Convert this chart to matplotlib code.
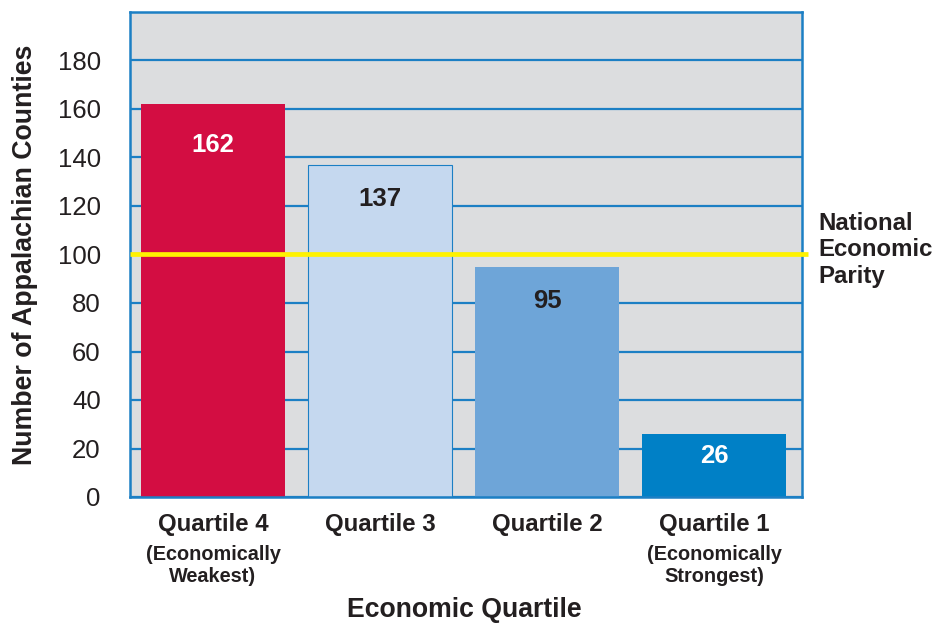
import matplotlib
matplotlib.use("Agg")
import matplotlib.pyplot as plt
from matplotlib.transforms import blended_transform_factory

plt.rcParams['font.family'] = ['Liberation Sans', 'DejaVu Sans']

categories = ["Quartile 4", "Quartile 3", "Quartile 2", "Quartile 1"]
subtitles = ["(Economically\nWeakest)", "", "", "(Economically\nStrongest)"]
counts = [162, 137, 95, 26]
parity_level = 100
y_ticks = [0, 20, 40, 60, 80, 100, 120, 140, 160, 180]

bar_colors = ["#D30D42", "#C5D8EF", "#6EA5D8", "#0080C6"]
value_colors = ["white", "#231F20", "#231F20", "white"]
value_drop = [41, 34, 34, 22]  # px below bar top
frame_blue = "#1C7FC4"
text_dark = "#231F20"

fig = plt.figure(figsize=(9.35, 6.24), dpi=100)
ax = fig.add_axes([130/935, 1 - 497/624, (802-130)/935, (497-12)/624])
ax.set_facecolor("#DCDDDF")
ax.set_xlim(-0.497, 3.527)
ax.set_ylim(0, 200)

ax.set_yticks(y_ticks)
ax.yaxis.grid(True, color=frame_blue, linewidth=1.6)
ax.set_axisbelow(True)
ax.tick_params(axis='y', length=0, pad=21, labelsize=18.5, labelcolor=text_dark)
ax.tick_params(axis='x', length=0, labelbottom=False)
for s in ax.spines.values():
    s.set_color(frame_blue)
    s.set_linewidth(1.8)

x = list(range(len(categories)))
bars = ax.bar(x, counts, width=0.862, color=bar_colors, zorder=2)
bars[1].set_edgecolor(frame_blue)
bars[1].set_linewidth(0.8)

for xi, v, c, d in zip(x, counts, value_colors, value_drop):
    ax.annotate(str(v), (xi, v), xytext=(0, -d * 0.72), textcoords='offset points',
                ha='center', va='center', fontsize=18.5, fontweight='bold', color=c, zorder=3)

# parity line runs from the left frame slightly past the right one
x0, x1 = ax.get_xlim()
ax.plot([x0, x1 + 0.035], [parity_level, parity_level], color="#FFF200", linewidth=3.4,
        zorder=4, clip_on=False, solid_capstyle='butt')
ax.text(818/935, 1 - 250/624, "National\nEconomic\nParity", transform=fig.transFigure,
        ha='left', va='center', fontsize=17.3, fontweight='bold', color=text_dark,
        linespacing=1.2)

trans = blended_transform_factory(ax.transData, fig.transFigure)
for xi, name, sub in zip(x, categories, subtitles):
    ax.text(xi, 1 - 525/624, name, transform=trans, ha='center', va='center',
            fontsize=17.3, fontweight='bold', color=text_dark)
    if sub:
        ax.text(xi, 1 - 565/624, sub, transform=trans, ha='center', va='center',
                fontsize=14.3, fontweight='bold', color=text_dark, linespacing=1.2)

fig.text(464/935, 1 - 610/624, "Economic Quartile", ha='center', va='center',
         fontsize=19.2, fontweight='bold', color=text_dark)
fig.text(25/935, 1 - 255/624, "Number of Appalachian Counties", rotation=90,
         ha='center', va='center', fontsize=19.3, fontweight='bold', color=text_dark)

fig.savefig("out.png", dpi=100, facecolor="white")
